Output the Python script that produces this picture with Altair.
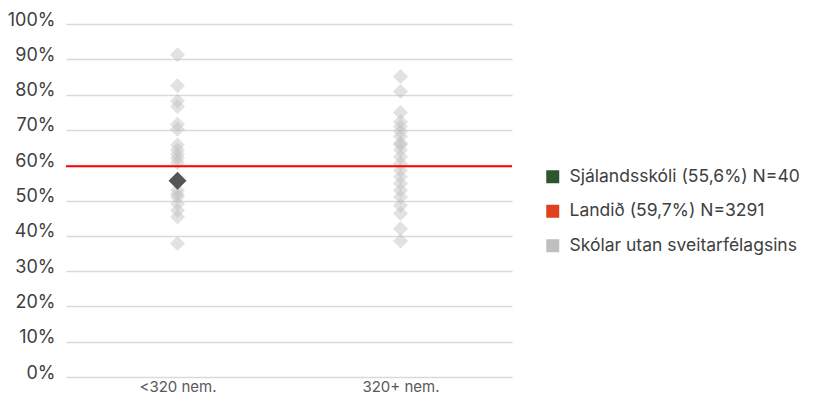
import altair as alt
import pandas as pd

# ---- data ----
categories = ["<320 nem.", "320+ nem."]
small_school_values = [91.3, 82.5, 78.2, 76.6, 71.6, 70.2, 65.7, 64.3, 63.0, 62.0,
                       60.7, 52.9, 51.8, 51.0, 49.1, 47.2, 45.3, 37.8]
large_school_values = [85.1, 80.9, 74.9, 72.3, 70.9, 69.5, 68.1, 66.2, 65.8, 64.3,
                       62.4, 60.5, 58.6, 56.7, 54.8, 52.9, 51.0, 48.6, 46.3, 42.0, 38.5]
school_category = ["<320 nem."]
school_value = [55.6]
national_value = [59.7]
legend_labels = ["Sjálandsskóli (55,6%) N=40", "Landið (59,7%) N=3291",
                 "Skólar utan sveitarfélagsins"]
legend_colors = ["#2f5530", "#e0401c", "#bfbfbf"]
y_ticks = [0, 10, 20, 30, 40, 50, 60, 70, 80, 90, 100]

FONT = "Inter"

others = pd.DataFrame({
    "cat": [categories[0]] * len(small_school_values) + [categories[1]] * len(large_school_values),
    "value": small_school_values + large_school_values,
})
school = pd.DataFrame({"cat": school_category, "value": school_value})
national = pd.DataFrame({"value": national_value})
legend_df = pd.DataFrame({"label": legend_labels,
                          "cat": [categories[0]] * len(legend_labels),
                          "value": national_value * len(legend_labels)})

x_enc = alt.X("cat:N",
              scale=alt.Scale(domain=categories, paddingInner=0, paddingOuter=0),
              axis=alt.Axis(title=None, domain=False, ticks=False, labelAngle=0,
                            labelPadding=2, labelFontSize=15, labelFont=FONT,
                            labelColor="#595959", grid=False))
y_enc = alt.Y("value:Q",
              scale=alt.Scale(domain=[0, 100], nice=False),
              axis=alt.Axis(title=None, values=y_ticks, labelExpr="datum.value + '%'",
                            domain=False, ticks=False, labelPadding=11,
                            labelOverlap=False,
                            gridColor="#d9d9d9", gridWidth=1.5,
                            labelFontSize=18, labelFont=FONT, labelColor="#404040",
                            labelOffset=-4))

pts = alt.Chart(others).mark_point(shape="diamond", filled=True, size=225,
                                   color="#bfbfbf", opacity=0.45, strokeWidth=0).encode(
    x=x_enc, y=y_enc)

rule = alt.Chart(national).mark_rule(color="#ff0000", strokeWidth=2).encode(
    y=y_enc)

dark = alt.Chart(school).mark_point(shape="diamond", filled=True, size=324,
                                    color="#555555", opacity=1, strokeWidth=0).encode(
    x=x_enc, y=y_enc)

legend_layer = alt.Chart(legend_df).mark_square(opacity=0).encode(
    x=x_enc, y=y_enc,
    color=alt.Color("label:N",
                    scale=alt.Scale(domain=legend_labels, range=legend_colors),
                    legend=alt.Legend(title=None, orient="none", legendX=478, legendY=144,
                                      symbolType="square", symbolSize=169,
                                      symbolOpacity=1, symbolStrokeWidth=0,
                                      labelFontSize=17.5, labelFont=FONT,
                                      labelColor="#404040", labelOffset=8,
                                      rowPadding=15.5, labelLimit=400)))

chart = alt.layer(pts, rule, dark, legend_layer).properties(
    width=446, height=353,
    autosize=alt.AutoSizeParams(type="none"),
    padding={"left": 58, "top": 16, "right": 295, "bottom": 18},
).configure_view(stroke=None)

chart.save("out.html", embed_options={"renderer": "svg", "actions": False})
